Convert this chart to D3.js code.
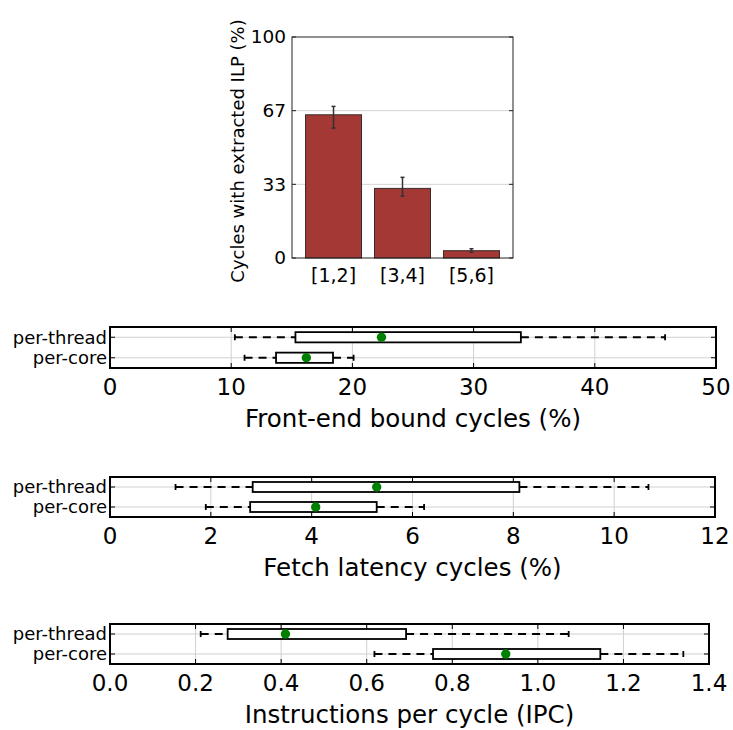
<html>
<script src="https://d3js.org/d3.v7.min.js"></script>
<body style="margin:0">
<script>
// bar chart data
var ilpBins = ['[1,2]', '[3,4]', '[5,6]']
var ilpMean = [64.8, 31.5, 3.3]
var ilpLow = [58.8, 28.0, 2.6]
var ilpHigh = [68.6, 36.5, 4.2]
var ilpTicks = [0, 33.33, 66.67, 100]
var ilpTickLabels = ['0', '33', '67', '100']

// box plots: [whisker low, q1, q3, whisker high, mean]
var groups = ['per-thread', 'per-core']
var frontEndStats = [[10.3, 15.3, 33.9, 45.8, 22.4], [11.1, 13.7, 18.4, 20.1, 16.2]]
var fetchStats = [[1.30, 2.83, 8.12, 10.68, 5.29], [1.90, 2.78, 5.29, 6.23, 4.08]]
var ipcStats = [[0.212, 0.275, 0.692, 1.072, 0.41], [0.618, 0.755, 1.146, 1.340, 0.925]]
var frontEndTicks = [0, 10, 20, 30, 40, 50]
var fetchTicks = [0, 2, 4, 6, 8, 10, 12]
var ipcTicks = [0, 0.2, 0.4, 0.6, 0.8, 1.0, 1.2, 1.4]

var width = 733, height = 730
var font = 'DejaVu Sans'
var svg = d3.select('body').append('svg').attr('width', width).attr('height', height)
    .style('font-family', font)
svg.append('rect').attr('width', width).attr('height', height).attr('fill', 'white')

// ---- bar chart ----
var bx0 = 292, bx1 = 513, by0 = 37, by1 = 258
var x = d3.scaleBand().domain(ilpBins).range([bx0, bx1]).paddingInner(0.188).paddingOuter(0.196)
var y = d3.scaleLinear().domain([0, 100]).range([by1, by0])
var gb = svg.append('g')

gb.selectAll('line.grid').data(ilpTicks.slice(1, 3)).enter().append('line')
    .attr('x1', bx0).attr('x2', bx1).attr('y1', d => y(d)).attr('y2', d => y(d))
    .attr('stroke', '#d4d4d4').attr('stroke-width', 1)

gb.selectAll('rect.bar').data(ilpMean).enter().append('rect')
    .attr('x', (d, i) => x(ilpBins[i])).attr('width', x.bandwidth())
    .attr('y', d => y(d)).attr('height', d => y(0) - y(d))
    .attr('fill', '#a33834').attr('stroke', '#3a2a2a').attr('stroke-width', 1)

var err = gb.selectAll('g.err').data(ilpMean).enter().append('g')
    .attr('stroke', '#333').attr('stroke-width', 1.5)
err.append('line').attr('x1', (d, i) => x(ilpBins[i]) + x.bandwidth() / 2).attr('x2', (d, i) => x(ilpBins[i]) + x.bandwidth() / 2)
    .attr('y1', (d, i) => y(ilpLow[i])).attr('y2', (d, i) => y(ilpHigh[i]))
err.append('line').attr('x1', (d, i) => x(ilpBins[i]) + x.bandwidth() / 2 - 2).attr('x2', (d, i) => x(ilpBins[i]) + x.bandwidth() / 2 + 2)
    .attr('y1', (d, i) => y(ilpLow[i])).attr('y2', (d, i) => y(ilpLow[i]))
err.append('line').attr('x1', (d, i) => x(ilpBins[i]) + x.bandwidth() / 2 - 2).attr('x2', (d, i) => x(ilpBins[i]) + x.bandwidth() / 2 + 2)
    .attr('y1', (d, i) => y(ilpHigh[i])).attr('y2', (d, i) => y(ilpHigh[i]))

// inward ticks left and right
ilpTicks.forEach(function(t) {
    gb.append('line').attr('x1', bx0).attr('x2', bx0 + 4).attr('y1', y(t)).attr('y2', y(t)).attr('stroke', '#222')
    gb.append('line').attr('x1', bx1 - 4).attr('x2', bx1).attr('y1', y(t)).attr('y2', y(t)).attr('stroke', '#222')
})
gb.append('rect').attr('x', bx0).attr('y', by0).attr('width', bx1 - bx0).attr('height', by1 - by0)
    .attr('fill', 'none').attr('stroke', '#222').attr('stroke-width', 1)

gb.selectAll('text.yt').data(ilpTicks).enter().append('text')
    .attr('x', bx0 - 6).attr('y', d => y(d)).attr('dy', '0.35em').attr('text-anchor', 'end')
    .attr('font-size', 18.5).text((d, i) => ilpTickLabels[i])
gb.selectAll('text.xt').data(ilpBins).enter().append('text')
    .attr('x', d => x(d) + x.bandwidth() / 2).attr('y', 282).attr('text-anchor', 'middle')
    .attr('font-size', 19).text(d => d)
gb.append('text').attr('transform', `translate(244, 151) rotate(-90)`)
    .attr('text-anchor', 'middle').attr('font-size', 18).text('Cycles with extracted ILP (%)')

// ---- box plots ----
function boxPanel(stats, ticks, fmt, label, left, right, top, bottom) {
    var g = svg.append('g')
    var xs = d3.scaleLinear().domain([ticks[0], ticks[ticks.length - 1]]).range([left, right])
    var ys = d3.scalePoint().domain(groups).range([top, bottom]).padding(0.5)
    var half = ys.step() * 0.25

    // grid
    g.selectAll('line.vg').data(ticks.slice(1, -1)).enter().append('line')
        .attr('x1', d => xs(d)).attr('x2', d => xs(d)).attr('y1', top).attr('y2', bottom)
        .attr('stroke', '#d0d0d0')
    g.selectAll('line.hg').data(groups).enter().append('line')
        .attr('x1', left).attr('x2', right).attr('y1', d => ys(d)).attr('y2', d => ys(d))
        .attr('stroke', '#d0d0d0')

    var b = g.selectAll('g.box').data(stats).enter().append('g')
        .attr('stroke', 'black').attr('fill', 'none').attr('stroke-width', 1.8)
    // whiskers
    b.append('line').attr('x1', d => xs(d[0])).attr('x2', d => xs(d[1]))
        .attr('y1', (d, i) => ys(groups[i])).attr('y2', (d, i) => ys(groups[i])).attr('stroke-dasharray', '8,6')
    b.append('line').attr('x1', d => xs(d[2])).attr('x2', d => xs(d[3]))
        .attr('y1', (d, i) => ys(groups[i])).attr('y2', (d, i) => ys(groups[i])).attr('stroke-dasharray', '8,6')
    // caps
    b.append('line').attr('x1', d => xs(d[0])).attr('x2', d => xs(d[0]))
        .attr('y1', (d, i) => ys(groups[i]) - 3).attr('y2', (d, i) => ys(groups[i]) + 3)
    b.append('line').attr('x1', d => xs(d[3])).attr('x2', d => xs(d[3]))
        .attr('y1', (d, i) => ys(groups[i]) - 3).attr('y2', (d, i) => ys(groups[i]) + 3)
    // box
    b.append('rect').attr('x', d => xs(d[1])).attr('width', d => xs(d[2]) - xs(d[1]))
        .attr('y', (d, i) => ys(groups[i]) - half).attr('height', half * 2).attr('fill', 'white')
    // mean
    b.append('circle').attr('cx', d => xs(d[4])).attr('cy', (d, i) => ys(groups[i])).attr('r', 4.7)
        .attr('fill', '#008000').attr('stroke', 'none')

    // inward ticks
    ticks.forEach(function(t) {
        g.append('line').attr('x1', xs(t)).attr('x2', xs(t)).attr('y1', top).attr('y2', top + 5).attr('stroke', 'black')
        g.append('line').attr('x1', xs(t)).attr('x2', xs(t)).attr('y1', bottom - 5).attr('y2', bottom).attr('stroke', 'black')
    })
    groups.forEach(function(c) {
        g.append('line').attr('x1', left).attr('x2', left + 5).attr('y1', ys(c)).attr('y2', ys(c)).attr('stroke', 'black')
        g.append('line').attr('x1', right - 5).attr('x2', right).attr('y1', ys(c)).attr('y2', ys(c)).attr('stroke', 'black')
    })
    g.append('rect').attr('x', left).attr('y', top).attr('width', right - left).attr('height', bottom - top)
        .attr('fill', 'none').attr('stroke', 'black').attr('stroke-width', 2)

    g.selectAll('text.cat').data(groups).enter().append('text')
        .attr('x', left - 3).attr('y', d => ys(d)).attr('dy', '0.35em').attr('text-anchor', 'end')
        .attr('font-size', 18).text(d => d)
    g.selectAll('text.xt').data(ticks).enter().append('text')
        .attr('x', d => xs(d)).attr('y', bottom + 27).attr('text-anchor', 'middle')
        .attr('font-size', 23).text(d => fmt(d))
    g.append('text').attr('x', (left + right) / 2).attr('y', bottom + 59).attr('text-anchor', 'middle')
        .attr('font-size', 24.5).text(label)
}

boxPanel(frontEndStats, frontEndTicks, d3.format('d'), 'Front-end bound cycles (%)', 110, 716, 327, 368)
boxPanel(fetchStats, fetchTicks, d3.format('d'), 'Fetch latency cycles (%)', 110, 715, 477, 517)
boxPanel(ipcStats, ipcTicks, d3.format('.1f'), 'Instructions per cycle (IPC)', 110, 709, 624, 664)
</script>
</body>
</html>
